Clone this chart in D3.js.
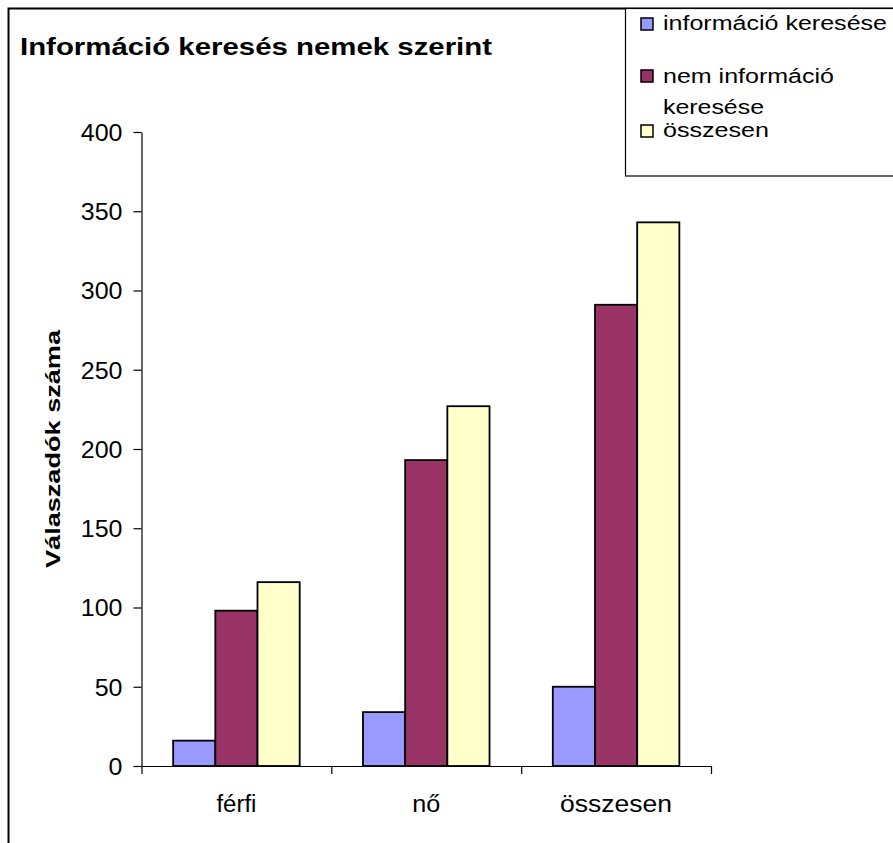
<!DOCTYPE html>
<html>
<head>
<meta charset="utf-8">
<script src="https://cdn.jsdelivr.net/npm/d3@7"></script>
<style>
  html, body { margin: 0; padding: 0; background: #fff; }
  svg { display: block; font-family: "Liberation Sans", Arial, sans-serif; }
</style>
</head>
<body>
<svg id="chart" width="893" height="843"></svg>
<script>
// chart data

var categories = ["férfi", "nő", "összesen"];
var seriesNames = ["információ keresése", "nem információ keresése", "összesen"];
var infoKereses = [16, 34, 50];
var nemInfoKereses = [98, 193, 291];
var osszesen = [116, 227, 343];
var yTicks = [0, 50, 100, 150, 200, 250, 300, 350, 400];

var colors = ["#9999ff", "#993366", "#ffffcc"];
var seriesValues = [infoKereses, nemInfoKereses, osszesen];

var rows = categories.map((c, i) => ({
	cat: c,
	vals: seriesValues.map((s, j) => ({ key: seriesNames[j], idx: j, value: s[i] }))
}));

var svg = d3.select("#chart");

// outer chart frame (runs off the right/bottom edge like the original)

svg.append("rect")
	.attr("x", 8.5).attr("y", 8.5)
	.attr("width", 1000).attr("height", 1000)
	.attr("fill", "#fff")
	.attr("stroke", "#000")
	.attr("stroke-width", 2);

// scales

var plotLeft = 141.5, plotRight = 711, plotTop = 132, plotBottom = 766;

var y = d3.scaleLinear().domain([0, 400]).range([plotBottom, plotTop]);

var x0 = d3.scaleBand()
	.domain(categories)
	.range([plotLeft, plotRight])
	.paddingInner(0).paddingOuter(0);

var x1 = d3.scaleBand()
	.domain(d3.range(seriesNames.length))
	.range([0, x0.bandwidth()])
	.paddingInner(0).paddingOuter(0.75);

// bars

var g = svg.append("g").attr("class", "bars");

g.selectAll("g")
	.data(rows)
	.enter()
	.append("g")
	.attr("transform", d => "translate(" + x0(d.cat) + ",0)")
	.selectAll("rect")
	.data(d => d.vals)
	.enter()
	.append("rect")
	.attr("x", d => x1(d.idx))
	.attr("y", d => y(d.value))
	.attr("width", x1.bandwidth())
	.attr("height", d => y(0) - y(d.value))
	.attr("fill", d => colors[d.idx])
	.attr("stroke", "#000")
	.attr("stroke-width", 1.8);

// y axis

var yAxis = svg.append("g")
	.attr("transform", "translate(" + plotLeft + ",0)")
	.call(d3.axisLeft(y).tickValues(yTicks).tickSize(8).tickSizeOuter(0).tickPadding(11));

// the original font is a bit wider than Arial, so stretch the glyphs
yAxis.selectAll("text")
	.attr("font-size", 23)
	.attr("fill", "#000")
	.attr("dy", "0.36em")
	.attr("font-family", "Liberation Sans, Arial, sans-serif")
	.attr("textLength", d => String(d).length * 13.9)
	.attr("lengthAdjust", "spacingAndGlyphs");

yAxis.selectAll("line, path").attr("stroke", "#000").attr("stroke-width", 1.2);

// x axis: ticks sit on the category boundaries

var xb = d3.scaleLinear().domain([0, categories.length]).range([plotLeft, plotRight]);

var xAxis = svg.append("g")
	.attr("transform", "translate(0," + plotBottom + ")")
	.call(d3.axisBottom(xb).tickValues(d3.range(categories.length + 1)).tickFormat("").tickSize(8).tickSizeOuter(0));

xAxis.selectAll("line, path").attr("stroke", "#000").attr("stroke-width", 1.2);

var catLen = [40, 28, 112];

svg.append("g")
	.selectAll("text")
	.data(categories)
	.enter()
	.append("text")
	.attr("x", d => x0(d) + x0.bandwidth() / 2)
	.attr("y", 811.5)
	.attr("text-anchor", "middle")
	.attr("font-size", 23)
	.attr("textLength", (d, i) => catLen[i])
	.attr("lengthAdjust", "spacingAndGlyphs")
	.text(d => d);

// titles

svg.append("text")
	.attr("x", 20)
	.attr("y", 55)
	.attr("font-size", 23)
	.attr("font-weight", "bold")
	.attr("textLength", 472)
	.attr("lengthAdjust", "spacingAndGlyphs")
	.text("Információ keresés nemek szerint");

svg.append("text")
	.attr("transform", "translate(59.5,449) rotate(-90)")
	.attr("text-anchor", "middle")
	.attr("font-size", 21)
	.attr("font-weight", "bold")
	.attr("textLength", 238)
	.attr("lengthAdjust", "spacingAndGlyphs")
	.text("Válaszadók száma");

// legend

var legend = svg.append("g").attr("class", "legend");

legend.append("rect")
	.attr("x", 625.5).attr("y", 8.5)
	.attr("width", 400).attr("height", 167.5)
	.attr("fill", "#fff")
	.attr("stroke", "#000")
	.attr("stroke-width", 1.2);

var legendItems = [
	{ idx: 0, swatchY: 18, lines: [{ t: "információ keresése", y: 29.5, len: 224 }] },
	{ idx: 1, swatchY: 70, lines: [{ t: "nem információ", y: 83, len: 171 }, { t: "keresése", y: 113.5, len: 101 }] },
	{ idx: 2, swatchY: 125, lines: [{ t: "összesen", y: 136.5, len: 106 }] }
];

var li = legend.selectAll("g.item")
	.data(legendItems)
	.enter()
	.append("g")
	.attr("class", "item");

li.append("rect")
	.attr("x", 641).attr("y", d => d.swatchY)
	.attr("width", 12).attr("height", 12)
	.attr("fill", d => colors[d.idx])
	.attr("stroke", "#000")
	.attr("stroke-width", 1.5);

li.selectAll("text")
	.data(d => d.lines)
	.enter()
	.append("text")
	.attr("x", 663)
	.attr("y", d => d.y)
	.attr("font-size", 20)
	.attr("textLength", d => d.len)
	.attr("lengthAdjust", "spacingAndGlyphs")
	.text(d => d.t);
</script>
</body>
</html>
